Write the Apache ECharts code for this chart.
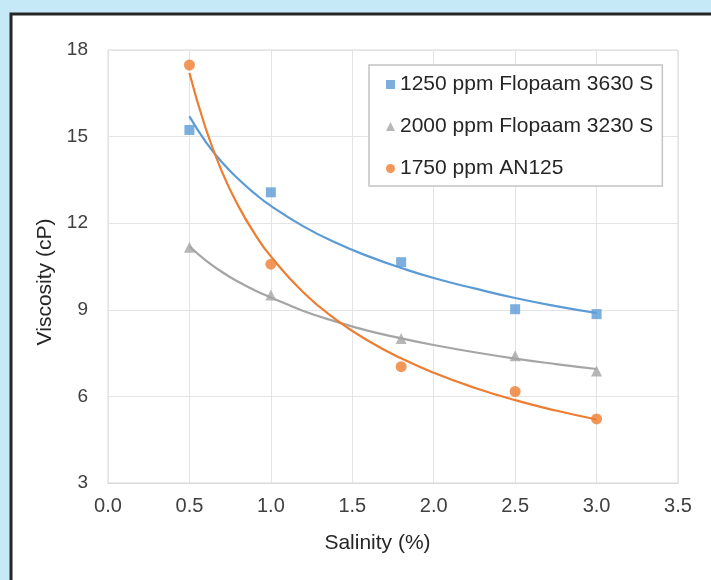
<!DOCTYPE html>
<html>
<head>
<meta charset="utf-8">
<script src="https://cdn.jsdelivr.net/npm/echarts@6/dist/echarts.min.js"></script>
<style>
  html, body { margin: 0; padding: 0; background: #c6e9f8; }
  #chart { width: 711px; height: 580px; }
</style>
</head>
<body>
<div id="chart"></div>
<script>
const FONT = '"Liberation Sans", Arial, sans-serif';

// measured points
const salinity = [0.5, 1.0, 1.8, 2.5, 3.0];
const flopaam3630 = [15.23, 13.07, 10.65, 9.02, 8.85];
const flopaam3230 = [11.17, 9.51, 8.01, 7.41, 6.88];
const an125 = [17.48, 10.58, 7.03, 6.17, 5.22];

// trend lines
const trendX = [0.5, 0.6, 0.7, 0.8, 0.9, 1.0, 1.2, 1.4, 1.6, 1.8, 2.0, 2.25, 2.5, 2.75, 3.0];
const trend3630 = [15.7, 14.82, 14.11, 13.53, 13.03, 12.6, 11.89, 11.32, 10.85, 10.45, 10.1, 9.74, 9.41, 9.13, 8.89];
const trend3230 = [11.2, 10.71, 10.31, 9.97, 9.68, 9.43, 8.96, 8.59, 8.27, 8.01, 7.78, 7.53, 7.31, 7.12, 6.95];
const trendAN125 = [17.2, 15.28, 13.78, 12.6, 11.64, 10.85, 9.6, 8.66, 7.92, 7.32, 6.82, 6.3, 5.87, 5.51, 5.2];

const names = ['1250 ppm Flopaam 3630 S', '2000 ppm Flopaam 3230 S', '1750 ppm AN125'];
const colors = ['#5b9bd5', '#a5a5a5', '#ed7d31'];

const zip = (xs, ys) => xs.map((x, i) => [x, ys[i]]);

const chart = echarts.init(document.getElementById('chart'));

function scatter(i, ys, symbol, size) {
  return {
    name: names[i], type: 'scatter', data: zip(salinity, ys),
    symbol, symbolSize: size, itemStyle: { color: colors[i] }, z: 4
  };
}
function trend(i, ys) {
  return {
    name: 'trend' + i, type: 'line', data: zip(trendX, ys), smooth: true,
    showSymbol: false, lineStyle: { color: colors[i], width: 2.2 }, z: 3
  };
}

chart.setOption({
  animation: false,
  backgroundColor: '#c6e9f8',
  textStyle: { fontFamily: FONT },
  graphic: [{
    type: 'rect', z: -10, silent: true,
    shape: { x: 11, y: 14, width: 760, height: 620 },
    style: { fill: '#ffffff', stroke: '#262626', lineWidth: 3 }
  }],
  grid: { left: 108, right: 33, top: 50, bottom: 97, show: true, borderColor: '#d9d9d9', borderWidth: 1 },
  legend: {
    data: names, orient: 'vertical', left: 369, top: 65,
    padding: [9, 9, 7, 17], itemGap: 21, itemWidth: 9, itemHeight: 9,
    borderColor: '#c4c4c4', borderWidth: 1.5, backgroundColor: '#fff',
    textStyle: { fontSize: 21, color: '#262626', fontFamily: FONT }
  },
  xAxis: {
    type: 'value', min: 0, max: 3.5, interval: 0.5,
    name: 'Salinity (%)', nameLocation: 'middle', nameGap: 50,
    nameTextStyle: { fontSize: 21, color: '#262626', padding: [0, 31, 0, 0] },
    axisLine: { lineStyle: { color: '#d9d9d9' } },
    axisTick: { show: false },
    axisLabel: { fontSize: 20, color: '#404040', margin: 13, formatter: v => v.toFixed(1) },
    splitLine: { lineStyle: { color: '#e4e4e4' } }
  },
  yAxis: {
    type: 'value', min: 3, max: 18, interval: 3,
    name: 'Viscosity (cP)', nameLocation: 'middle', nameGap: 48, nameRotate: 90,
    nameTextStyle: { fontSize: 21, color: '#262626', padding: [0, 31, 0, 0] },
    axisLine: { show: false },
    axisTick: { show: false },
    axisLabel: { fontSize: 19, color: '#404040', margin: 20 },
    splitLine: { lineStyle: { color: '#e4e4e4' } }
  },
  series: [
    trend(0, trend3630),
    trend(1, trend3230),
    trend(2, trendAN125),
    scatter(0, flopaam3630, 'rect', 10),
    scatter(1, flopaam3230, 'triangle', 11),
    scatter(2, an125, 'circle', 11)
  ]
});
</script>
</body>
</html>
